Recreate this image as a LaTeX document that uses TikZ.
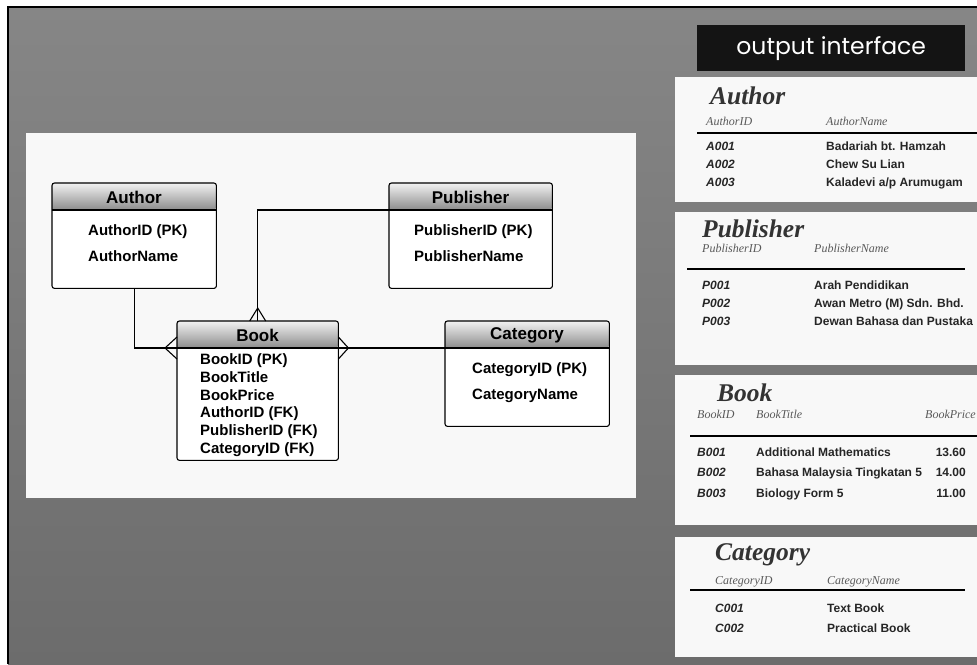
\documentclass[tikz,border=0pt]{standalone}
\usepackage{fontspec}
\setmainfont{Liberation Sans}
\newfontfamily\tnr{Liberation Serif}
\newfontfamily\pop{Poppins}
\usetikzlibrary{calc}
\definecolor{bgtop}{HTML}{868686}
\definecolor{bgbot}{HTML}{6C6C6C}
\definecolor{hdtop}{HTML}{F2F2F2}
\definecolor{hdbot}{HTML}{8C8C8C}
\definecolor{panel}{HTML}{F8F8F8}
\newcommand{\erentity}[6]{%
  \node[entfill, minimum width=#4pt, minimum height=#5pt] (#1) at (#2,#3) {};
  \shade[top color=hdtop, bottom color=hdbot, rounded corners=2.5pt]
    (#2,{#3+27}) -- (#2,#3) -- ({#2+#4},#3) -- ({#2+#4},{#3+27}) [sharp corners] -- cycle;
  \draw[entline] (#2,{#3+27}) -- ({#2+#4},{#3+27});
  \draw[entline, rounded corners=2.5pt] (#1.north west) rectangle (#1.south east);
  \node[hdtext] (#1-h) at ({#2+#4/2},{#3+14}) {#6};
}
\begin{document}
\begin{tikzpicture}[x=1pt,y=-1pt,
 entfill/.style={fill=white, draw=none, anchor=north west, inner sep=0pt, rounded corners=2.5pt},
 entline/.style={draw=black, line width=1.1pt},
 hdtext/.style={font=\bfseries\fontsize{17}{19}\selectfont, inner sep=0pt},
 attr/.style={font=\bfseries\fontsize{15}{17}\selectfont, anchor=base west, inner sep=0pt},
 conn/.style={draw=black, line width=1.1pt},
 ptitle/.style={font=\tnr\bfseries\itshape\fontsize{25.5}{28}\selectfont, anchor=base west, inner sep=0pt, text=black!80},
 pcol/.style={font=\tnr\itshape\fontsize{12}{14}\selectfont, anchor=base west, inner sep=0pt, text=black!65},
 pid/.style={font=\bfseries\itshape\fontsize{12}{14}\selectfont, anchor=base west, inner sep=0pt, text=black!85},
 pval/.style={font=\bfseries\fontsize{12}{14}\selectfont, anchor=base west, inner sep=0pt, text=black!85},
 prule/.style={draw=black, line width=2.2pt},
 pbox/.style={fill=panel, draw=none},
]
\useasboundingbox (0,0) rectangle (977,664);
\fill[white] (0,0) rectangle (977,664);
\shade[top color=bgtop, bottom color=bgbot] (8,7) rectangle (977,664);
\draw[black, line width=1.4pt] (8,664) -- (8,7) -- (977,7);

% ER diagram panel
\fill[panel] (26,133) rectangle (636,498);

\erentity{author}{52}{183}{164}{105}{Author}
\erentity{publisher}{389}{183}{163}{105}{Publisher}
\erentity{book}{177}{321}{161}{139}{Book}
\erentity{category}{445}{321}{164}{105}{Category}

\node[attr] (au1) at (88,235) {AuthorID (PK)};
\node[attr] (au2) at (88,261) {AuthorName};
\node[attr] (pu1) at (414,235) {PublisherID (PK)};
\node[attr] (pu2) at (414,261) {PublisherName};
\node[attr] (ca1) at (472,373.5) {CategoryID (PK)};
\node[attr] (ca2) at (472,399.5) {CategoryName};
\node[attr] (bo1) at (200,364.5) {BookID (PK)};
\node[attr] (bo2) at (200,382.5) {BookTitle};
\node[attr] (bo3) at (200,400) {BookPrice};
\node[attr] (bo4) at (200,417.5) {AuthorID (FK)};
\node[attr] (bo5) at (200,435.5) {PublisherID (FK)};
\node[attr] (bo6) at (200,453.5) {CategoryID (FK)};

% connectors
\draw[conn] (author.south) |- ($(book.north west)+(0,27)$);
\draw[conn] ($(publisher.north west)+(0,27)$) -| (book.north);
\draw[conn] ($(category.north west)+(0,27)$) -- ($(book.north east)+(0,27)$);
\draw[conn] ($(book.north)+(-8,0)$) -- ($(book.north)+(0,-13)$) -- ($(book.north)+(8,0)$);
\draw[conn] ($(book.north west)+(0,16)$) -- ($(book.north west)+(-12,27)$) -- ($(book.north west)+(0,38)$);
\draw[conn] ($(book.north east)+(0,16)$) -- ($(book.north east)+(10,27)$) -- ($(book.north east)+(0,38)$);

% output interface
\node[fill=black!92, text=white, minimum width=268pt, minimum height=46pt, anchor=north west, inner sep=0pt,
      font=\pop\fontsize{23.5}{25}\selectfont] (oi) at (697,25) {output interface};

% Author table
\fill[pbox] (675,77) rectangle (977,202);
\node[ptitle] (ta) at (710,104) {Author};
\node[pcol] (ta-c1) at (706,125) {AuthorID};
\node[pcol] (ta-c2) at (826,125) {AuthorName};
\draw[prule] (697,133) -- (977,133);
\node[pid] (ta-i1) at (706,150.5) {A001};
\node[pval] (ta-v1) at (826,150.5) {Badariah bt. Hamzah};
\node[pid] (ta-i2) at (706,168.5) {A002};
\node[pval] (ta-v2) at (826,168.5) {Chew Su Lian};
\node[pid] (ta-i3) at (706,186.5) {A003};
\node[pval] (ta-v3) at (826,186.5) {Kaladevi a/p Arumugam};

% Publisher table
\fill[pbox] (675,212) rectangle (977,365);
\node[ptitle] (tp) at (702,237) {Publisher};
\node[pcol] (tp-c1) at (702,252) {PublisherID};
\node[pcol] (tp-c2) at (814,252) {PublisherName};
\draw[prule] (687,269) -- (965,269);
\node[pid] (tp-i1) at (702,289.5) {P001};
\node[pval] (tp-v1) at (814,289.5) {Arah Pendidikan};
\node[pid] (tp-i2) at (702,307.5) {P002};
\node[pval] (tp-v2) at (814,307.5) {Awan Metro (M) Sdn. Bhd.};
\node[pid] (tp-i3) at (702,325.5) {P003};
\node[pval] (tp-v3) at (814,325.5) {Dewan Bahasa dan Pustaka};

% Book table
\fill[pbox] (675,375) rectangle (977,525);
\node[ptitle] (tb) at (717,401) {Book};
\node[pcol] (tb-c1) at (697,418) {BookID};
\node[pcol] (tb-c2) at (756,418) {BookTitle};
\node[pcol, anchor=base east] (tb-c3) at (976,418) {BookPrice};
\draw[prule] (690,436) -- (977,436);
\node[pid] (tb-i1) at (697,456.5) {B001};
\node[pval] (tb-v1) at (756,456.5) {Additional Mathematics};
\node[pval, anchor=base east] (tb-p1) at (966,456.5) {13.60};
\node[pid] (tb-i2) at (697,476.5) {B002};
\node[pval] (tb-v2) at (756,476.5) {Bahasa Malaysia Tingkatan 5};
\node[pval, anchor=base east] (tb-p2) at (966,476.5) {14.00};
\node[pid] (tb-i3) at (697,497.5) {B003};
\node[pval] (tb-v3) at (756,497.5) {Biology Form 5};
\node[pval, anchor=base east] (tb-p3) at (966,497.5) {11.00};

% Category table
\fill[pbox] (675,537) rectangle (977,657);
\node[ptitle] (tc) at (715,560) {Category};
\node[pcol] (tc-c1) at (715,584) {CategoryID};
\node[pcol] (tc-c2) at (827,584) {CategoryName};
\draw[prule] (690,590) -- (965,590);
\node[pid] (tc-i1) at (715,612.5) {C001};
\node[pval] (tc-v1) at (827,612.5) {Text Book};
\node[pid] (tc-i2) at (715,632.5) {C002};
\node[pval] (tc-v2) at (827,632.5) {Practical Book};
\end{tikzpicture}
\end{document}
